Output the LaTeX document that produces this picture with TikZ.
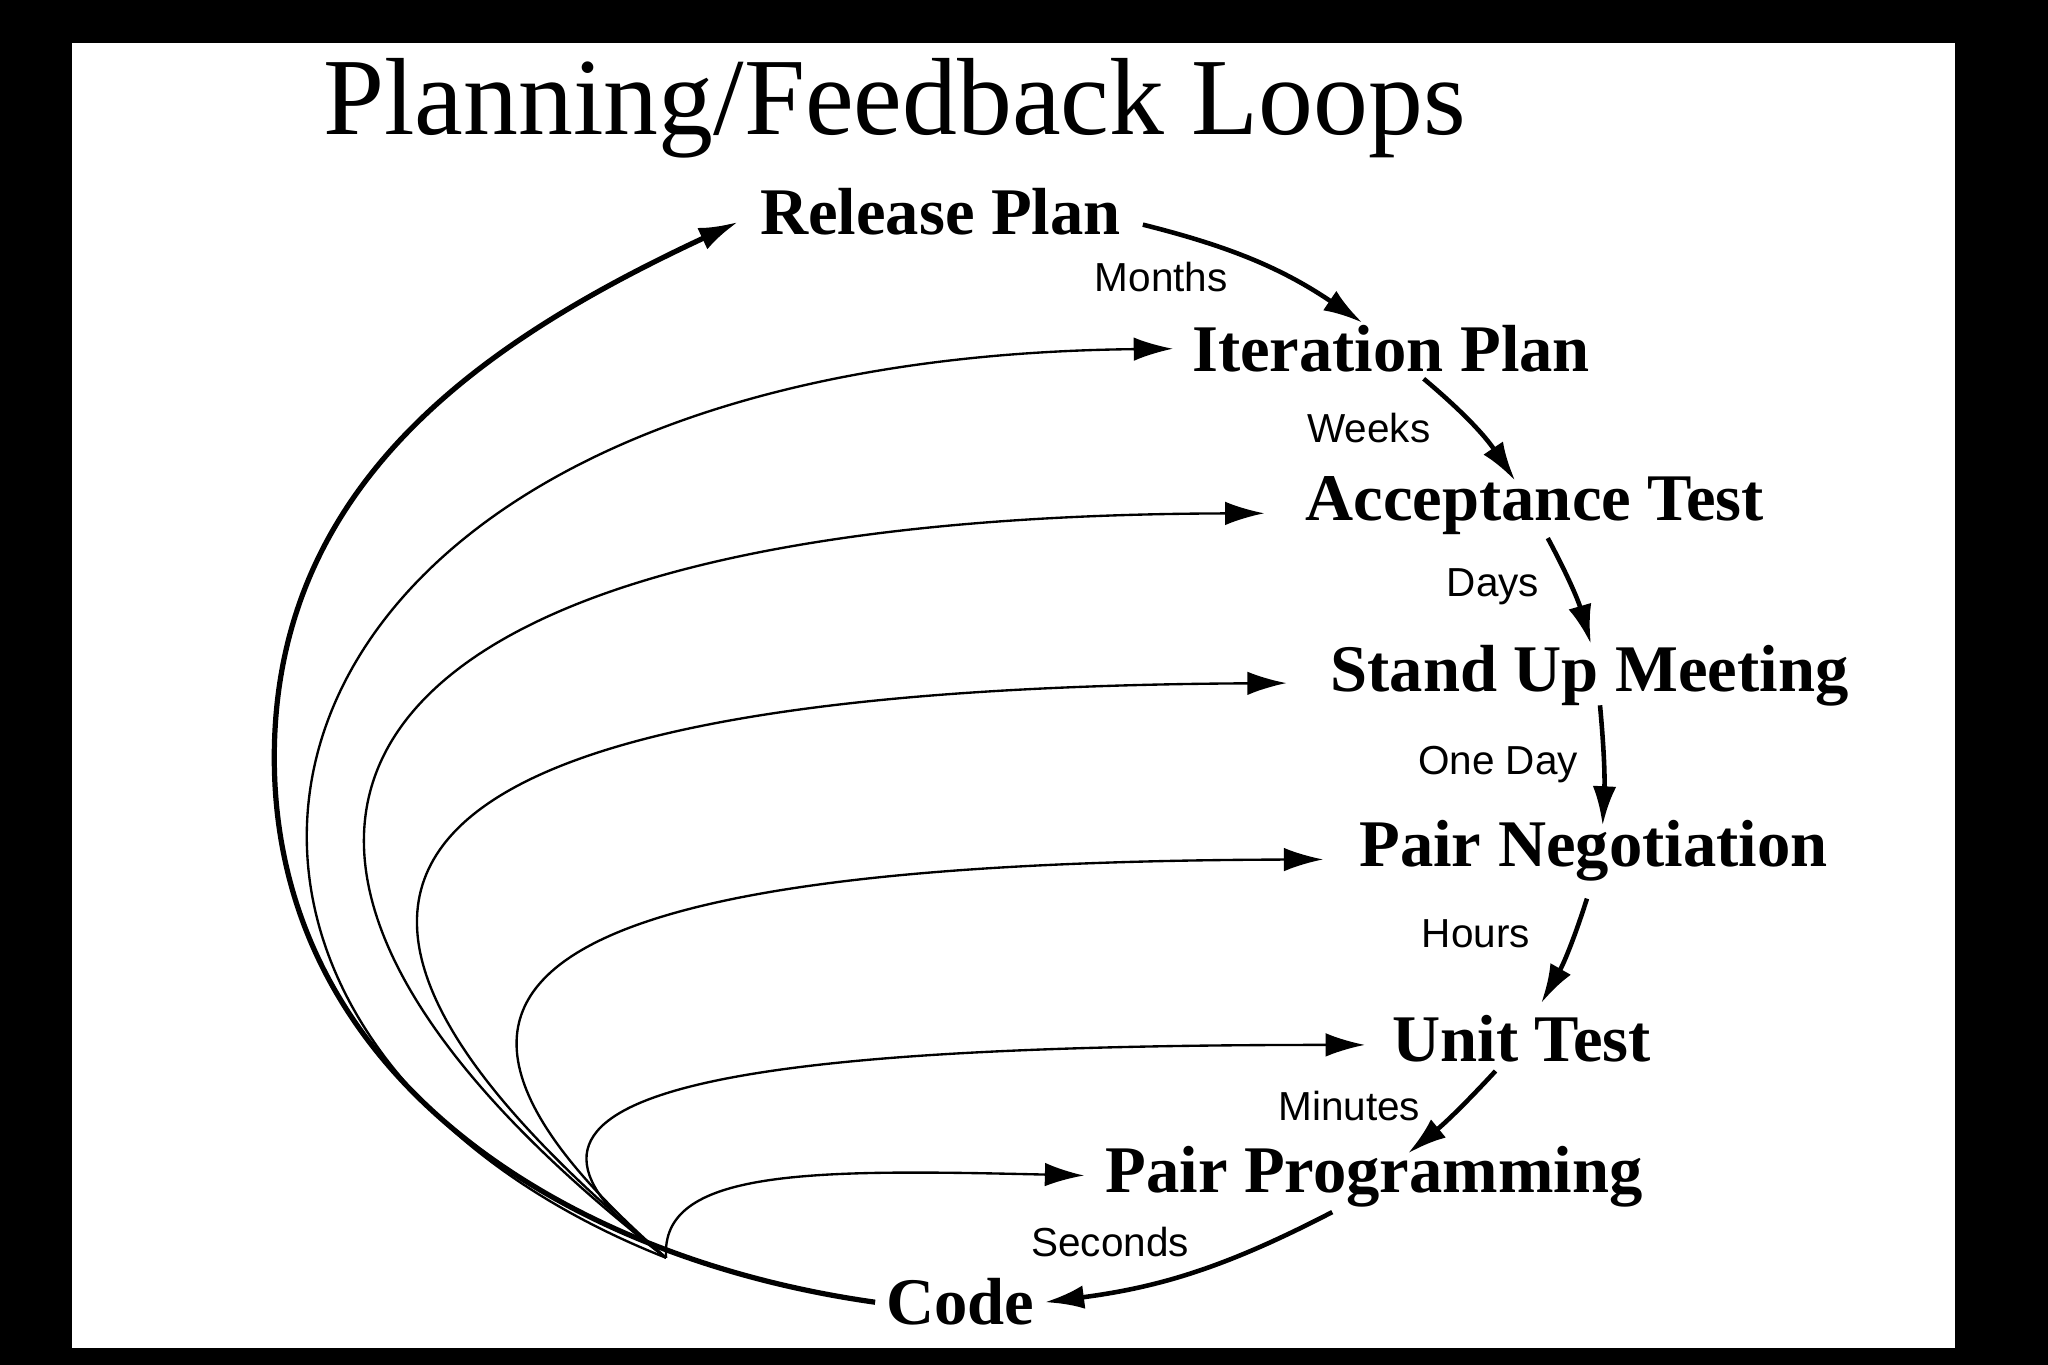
\documentclass[tikz,border=0pt]{standalone}
\usepackage{fontspec}
\setmainfont{Liberation Serif}
\newfontfamily\lsans{Liberation Sans}
\usetikzlibrary{calc,arrows.meta}
\begin{document}
\begin{tikzpicture}[x=1pt,y=1pt,
  stage/.style={font=\fontsize{51}{56}\selectfont\bfseries, inner sep=0pt},
  lbl/.style={font=\lsans\fontsize{31}{35}\selectfont, inner sep=0pt},
  fwd/.style={line width=3.5pt,-{Latex[length=30pt,width=18pt]}},
  back/.style={line width=1.8pt,-{Latex[length=30pt,width=18pt]}},
  outer/.style={line width=4pt,-{Latex[length=30pt,width=18pt]}}]
\fill[black] (0,0) rectangle (1568,1045);
\fill[white] (55,13) rectangle (1497,1012);
\useasboundingbox (0,0) rectangle (1568,1045);
\node[font=\fontsize{84}{90}\selectfont, inner sep=0pt] (title) at (685,962) {Planning/Feedback Loops};
\node[stage] (rp) at (720,883) {Release Plan};
\node[stage] (ip) at (1065,778) {Iteration Plan};
\node[stage] (ac) at (1175,658) {Acceptance Test};
\node[stage] (su) at (1217,528) {Stand Up Meeting};
\node[stage] (pn) at (1220,394) {Pair Negotiation};
\node[stage] (ut) at (1165,250) {Unit Test};
\node[stage] (pp) at (1052,144) {Pair Programming};
\node[stage] (co) at (735,48) {Code};
\node[lbl] (l1) at (889,833) {Months};
\node[lbl] (l2) at (1048,717) {Weeks};
\node[lbl] (l3) at (1143,596) {Days};
\node[lbl] (l4) at (1147,460) {One Day};
\node[lbl] (l5) at (1130,330) {Hours};
\node[lbl] (l6) at (1033,198) {Minutes};
\node[lbl] (l7) at (850,94) {Seconds};
% forward arrows
\draw[fwd] ($(rp.center)+(155,-10)$) to[bend left=10] ($(ip.center)+(-22,20)$);
\draw[fwd] ($(ip.center)+(25,-23)$) to[bend left=8] ($(ac.center)+(-15,19)$);
\draw[fwd] ($(ac.center)+(10,-25)$) to[bend left=6] ($(su.center)+(1,24)$);
\draw[fwd] ($(su.center)+(8,-23)$) to[bend left=4] ($(pn.center)+(7,19)$);
\draw[fwd] ($(pn.center)+(-5,-37)$) to[bend left=6] ($(ut.center)+(15,27)$);
\draw[fwd] ($(ut.center)+(-20,-25)$) to[bend left=4] ($(pp.center)+(26,18)$);
\draw[fwd] ($(pp.center)+(-32,-27)$) to[bend left=10] ($(co.center)+(65,0)$);
% return loops
\coordinate (S) at (510,82);
\coordinate (L0) at (210,465);
\draw[outer] ($(co.center)+(-65,0)$) to[out=172,in=270] (L0) to[out=90,in=205] ($(rp.center)+(-155,-8)$);
\draw[back] (S) .. controls (60,260) and (150,770) .. ($(ip.center)+(-167,0)$);
\draw[back] (S) .. controls (100,400) and (230,650) .. ($(ac.center)+(-207,-6)$);
\draw[back] (S) .. controls (150,380) and (300,518) .. ($(su.center)+(-232,-6)$);
\draw[back] (S) .. controls (260,300) and (420,385) .. ($(pn.center)+(-207,-7)$);
\draw[back] (S) .. controls (350,200) and (500,245) .. ($(ut.center)+(-120,-5)$);
\draw[back] (S) .. controls (505,150) and (620,150) .. ($(pp.center)+(-222,1)$);
\end{tikzpicture}
\end{document}
